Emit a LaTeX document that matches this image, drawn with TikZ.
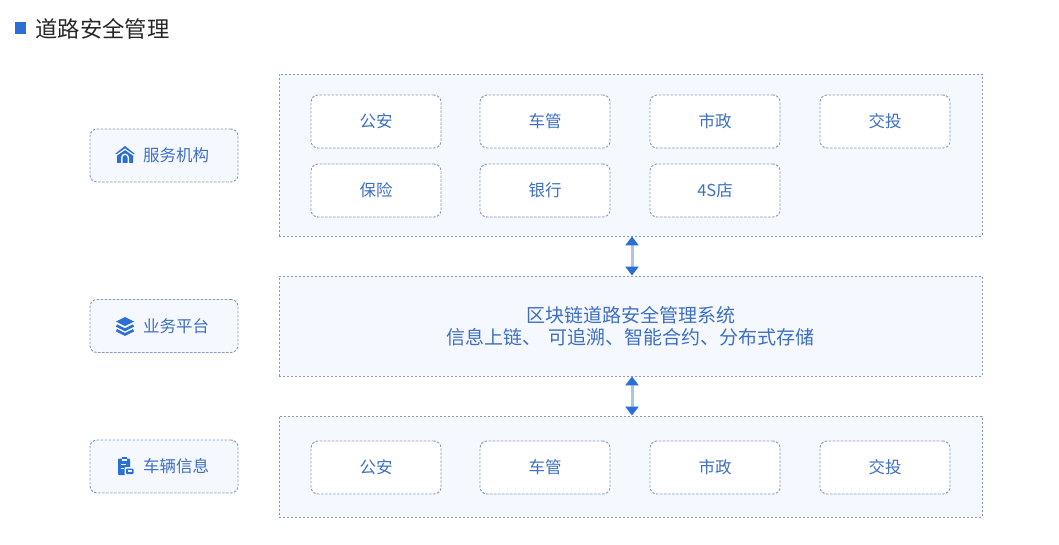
\documentclass[tikz,border=0pt]{standalone}
\usepackage{fontspec}
\setmainfont{Noto Sans CJK SC}
\usetikzlibrary{arrows.meta}
\definecolor{rim}{HTML}{8499C0}
\definecolor{pale}{HTML}{F5F8FE}
\definecolor{ink}{HTML}{3D6FC6}
\definecolor{icon}{HTML}{2B6FD6}
\definecolor{stem}{HTML}{A9C4EE}
\begin{document}
\begin{tikzpicture}[x=1pt,y=-1pt,line join=round,
	dashbox/.style={draw=rim,line width=0.9pt,dash pattern=on 2.4pt off 1.6pt,rounded corners=7pt,inner sep=0pt},
	layer/.style={dashbox,rounded corners=0pt,fill=pale,minimum width=703pt},
	side/.style={dashbox,fill=pale,minimum width=148pt,minimum height=53pt,text=ink,font=\fontsize{16.5}{18}\selectfont},
	cell/.style={dashbox,fill=white,minimum width=130pt,minimum height=53pt,text=ink,font=\fontsize{16.5}{18}\selectfont},
	link/.style={stem,line width=3pt,{Triangle[width=13pt,length=9pt,color=icon]}-{Triangle[width=13pt,length=9pt,color=icon]}}]
	\useasboundingbox (0,0) rectangle (1059,545);
	% title
	\fill[icon] (15,22.5) rectangle (26,34);
	\node[anchor=west,text=black!85,font=\fontsize{22.3}{24}\selectfont] (title) at (32,29) {道路安全管理};
	% layers
	\node[layer,minimum height=162pt] (org) at (630.5,155) {};
	\node[layer,minimum height=100pt,text=ink,font=\fontsize{19}{22.5}\selectfont,align=center] (plat) at (630.5,326) {区块链道路安全管理系统\\信息上链、\hspace{0.4em}可追溯、智能合约、分布式存储};
	\node[layer,minimum height=101pt] (car) at (630.5,466.5) {};
	% side labels
	\node[side] (sorg) at (164,155.5) {\hspace{24pt}服务机构};
	\node[side] (splat) at (164,326) {\hspace{24pt}业务平台};
	\node[side] (scar) at (164,466.5) {\hspace{24pt}车辆信息};
	% top cells
	\node[cell] (ga) at (376,121.5) {公安};
	\node[cell] (cg) at (545,121.5) {车管};
	\node[cell] (sz) at (715,121.5) {市政};
	\node[cell] (jt) at (885,121.5) {交投};
	\node[cell] (bx) at (376,190.5) {保险};
	\node[cell] (yh) at (545,190.5) {银行};
	\node[cell] (dian) at (715,190.5) {4S店};
	% bottom cells
	\node[cell] (ga2) at (376,467.5) {公安};
	\node[cell] (cg2) at (545,467.5) {车管};
	\node[cell] (sz2) at (715,467.5) {市政};
	\node[cell] (jt2) at (885,467.5) {交投};
	% links
	\draw[link] ([xshift=1.5pt]org.south) -- ([xshift=1.5pt]plat.north);
	\draw[link] ([xshift=1.5pt]plat.south) -- ([xshift=1.5pt]car.north);
	% icons
	\begin{scope}[shift={(125,155)}]
		\fill[icon] (-10,-1) -- (0,-9) -- (10,-1) -- (8,-1) -- (8,8) -- (-8,8) -- (-8,-1) -- cycle;
		\fill[pale] (-8,-1) -- (0,-6.5) -- (8,-1) -- (8,0.5) -- (0,-5) -- (-8,0.5) -- cycle;
		\fill[pale] (-4,8) -- (-4,2.5) arc (180:360:4) -- (4,8) -- (2.5,8) -- (2.5,2.5) arc (360:180:2.5) -- (-2.5,8) -- cycle;
	\end{scope}
	\begin{scope}[shift={(125,326)}]
		\fill[icon] (0,-9) -- (9,-4.5) -- (0,0) -- (-9,-4.5) -- cycle;
		\draw[icon,line width=2.6pt,line join=miter] (-8.5,-0.5) -- (0,3.8) -- (8.5,-0.5);
		\draw[icon,line width=2.6pt,line join=miter] (-8.5,4.2) -- (0,8.5) -- (8.5,4.2);
	\end{scope}
	\begin{scope}[shift={(125,466)}]
		\fill[icon,rounded corners=1pt] (-7,-7.5) rectangle (5,9);
		\fill[icon] (-3.5,-9.5) rectangle (1.5,-6);
		\fill[pale] (-3.5,-7) rectangle (1.5,-5.5);
		\fill[pale] (-4.5,-2.5) rectangle (1,-1);
		\fill[pale] (-4.5,1.5) rectangle (-1,3);
		\fill[pale,rounded corners=1pt] (-0.5,1) rectangle (10,9.5);
		\fill[icon,rounded corners=1pt] (1,2.5) rectangle (8.5,8);
		\fill[pale] (2.5,4) rectangle (7,5.5);
	\end{scope}
\end{tikzpicture}
\end{document}
